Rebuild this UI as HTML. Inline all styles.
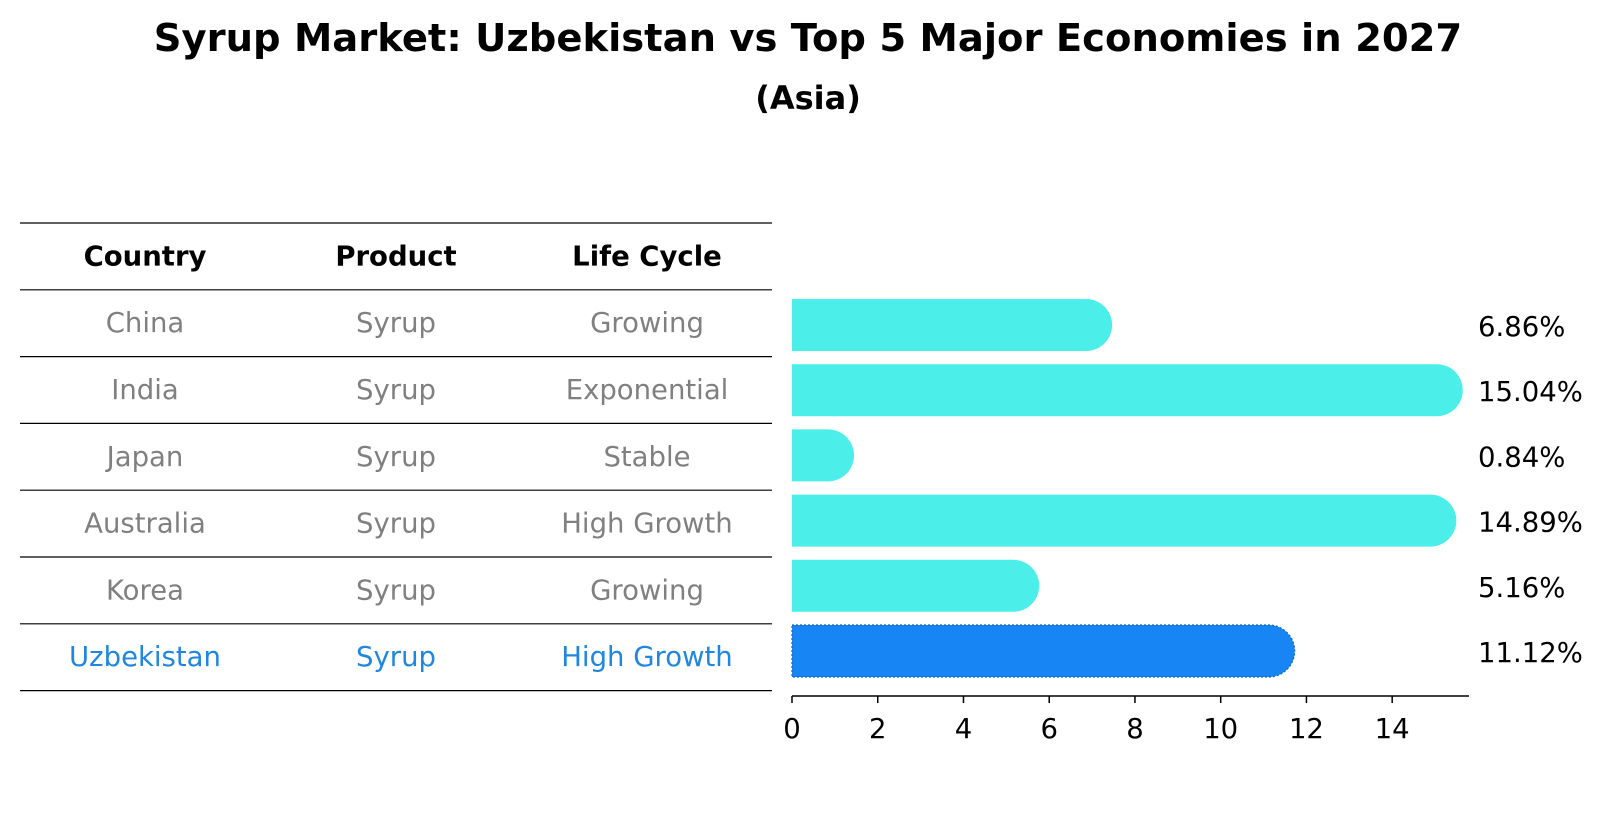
<!DOCTYPE html>
<html><head><meta charset="utf-8"><style>
html,body{margin:0;padding:0;background:#fff;}
svg{display:block;font-family:"DejaVu Sans","Liberation Sans",sans-serif;}
</style></head><body>
<svg id="chart" width="1604" height="823" viewBox="0 0 1604 823" xmlns="http://www.w3.org/2000/svg">
<text x="808" y="51" text-anchor="middle" font-size="38.5" font-weight="bold">Syrup Market: Uzbekistan vs Top 5 Major Economies in 2027</text>
<text x="808" y="109" text-anchor="middle" font-size="32" font-weight="bold">(Asia)</text>
<g id="table"></g>
<g id="bars"></g>
</svg>
<script>
const countries = ["China","India","Japan","Australia","Korea","Uzbekistan"];
const products = ["Syrup","Syrup","Syrup","Syrup","Syrup","Syrup"];
const lifeCycles = ["Growing","Exponential","Stable","High Growth","Growing","High Growth"];
const values = [6.86,15.04,0.84,14.89,5.16,11.12];
const valueLabels = ["6.86%","15.04%","0.84%","14.89%","5.16%","11.12%"];
const ticks = [0,2,4,6,8,10,12,14];

const NS="http://www.w3.org/2000/svg";
function mk(tag, attrs, parent){const e=document.createElementNS(NS,tag);for(const k in attrs)e.setAttribute(k,attrs[k]);parent.appendChild(e);return e;}
const X0=792, UNIT=42.87;
const xs=v=>X0+v*UNIT;
const barY0=325, barStep=65.2, barH=52;
const ys=i=>barY0+i*barStep;
const FS=27.5;

// table
const tbl=document.getElementById('table');
const lineY0=223, rowH=66.8;
for(let i=0;i<=countries.length+1;i++){
  const l=mk('line',{x1:20,x2:772,y1:lineY0+i*rowH,y2:lineY0+i*rowH,stroke:'#000','stroke-width':1.2},tbl);
  
  
}
const colX=[145,396,647];
const headers=["Country","Product","Life Cycle"];
headers.forEach((h,j)=>{
  const t=mk('text',{x:colX[j],y:lineY0+rowH/2+9,'text-anchor':'middle','font-size':FS,'font-weight':'bold'},tbl);
  t.textContent=h;
  
  
});
countries.forEach((c,i)=>{
  const col = i===countries.length-1 ? '#1f87e0' : '#808080';
  const cy=lineY0+(i+1)*rowH+rowH/2+9;
  [c,products[i],lifeCycles[i]].forEach((txt,j)=>{
    const t=mk('text',{x:colX[j],y:cy,'text-anchor':'middle','font-size':FS,fill:col},tbl);
    t.textContent=txt;
    
    
  });
});

// bars
const bg=document.getElementById('bars');
values.forEach((v,i)=>{
  const last=i===values.length-1;
  const fill=last?'#1785f4':'#4beee8';
  const y=ys(i), r=barH/2, xe=xs(v);
  const d=`M${X0},${y-r} L${xe},${y-r} A${r},${r} 0 0 1 ${xe},${y+r} L${X0},${y+r} Z`;
  const p=mk('path',{d:d,fill:fill},bg);
  if(last){p.setAttribute('stroke','#1565c0');p.setAttribute('stroke-width','1.2');p.setAttribute('stroke-dasharray','2 2');}
  
  
  const t=mk('text',{x:1478,y:y+11,'font-size':FS,fill:'#000'},bg);
  t.textContent=valueLabels[i];
  
  
});
// axis
const axY=696;
const ax=mk('line',{x1:X0,x2:1469,y1:axY,y2:axY,stroke:'#000','stroke-width':1.5},bg);


ticks.forEach(tv=>{
  const tm=mk('line',{x1:xs(tv),x2:xs(tv),y1:axY,y2:axY+7,stroke:'#000','stroke-width':1.5},bg);
  
  
  const tl=mk('text',{x:xs(tv),y:axY+42,'text-anchor':'middle','font-size':FS},bg);
  tl.textContent=String(tv);
  
  
});
</script>
</body></html>
